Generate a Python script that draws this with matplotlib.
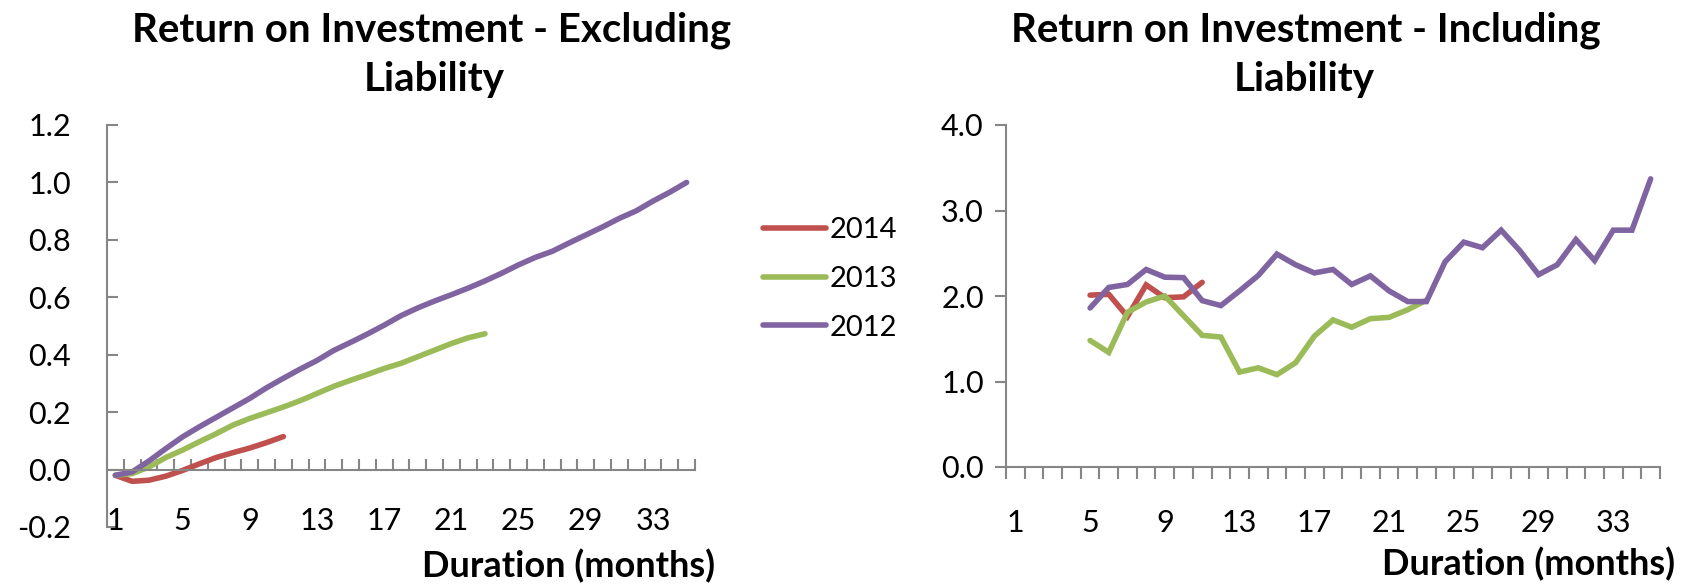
import matplotlib
matplotlib.use("Agg")
import matplotlib.pyplot as plt
import matplotlib.transforms as mtransforms
import numpy as np

plt.rcParams['font.family'] = ['Lato', 'DejaVu Sans']

# ---------------- data ----------------
months = list(range(1, 36))
tick_months = [1, 5, 9, 13, 17, 21, 25, 29, 33]
series_names = ['2014', '2013', '2012']
colors = ['#C0504D', '#9BBB59', '#8064A2']

# Return on Investment - Excluding Liability (months 1..n)
excl_2014 = [-0.020, -0.041, -0.037, -0.023, -0.003, 0.020, 0.042, 0.059, 0.075, 0.094, 0.115]
excl_2013 = [-0.020, -0.014, 0.009, 0.042, 0.068, 0.097, 0.125, 0.155, 0.178, 0.198, 0.218,
             0.240, 0.265, 0.290, 0.311, 0.331, 0.352, 0.370, 0.393, 0.416, 0.439, 0.459, 0.473]
excl_2012 = [-0.020, -0.008, 0.030, 0.073, 0.114, 0.149, 0.182, 0.215, 0.248, 0.285, 0.318,
             0.350, 0.380, 0.415, 0.443, 0.472, 0.503, 0.536, 0.563, 0.587, 0.609, 0.632,
             0.657, 0.684, 0.713, 0.739, 0.760, 0.789, 0.817, 0.845, 0.875, 0.901, 0.935,
             0.966, 1.000]

# Return on Investment - Including Liability (starting month 5)
incl_start = 5
incl_2014 = [2.01, 2.02, 1.76, 2.13, 1.98, 1.99, 2.16]
incl_2013 = [1.48, 1.34, 1.81, 1.93, 2.00, 1.77, 1.54, 1.52, 1.11, 1.16, 1.08, 1.22,
             1.53, 1.72, 1.635, 1.735, 1.75, 1.84, 1.95]
incl_2012 = [1.86, 2.10, 2.135, 2.31, 2.22, 2.215, 1.946, 1.888, 2.06, 2.24, 2.49, 2.365,
             2.27, 2.31, 2.135, 2.235, 2.06, 1.935, 1.935, 2.40, 2.63, 2.565, 2.77, 2.53,
             2.25, 2.365, 2.66, 2.415, 2.77, 2.77, 3.37]

left_yticks = [-0.2, 0.0, 0.2, 0.4, 0.6, 0.8, 1.0, 1.2]
right_yticks = [0.0, 1.0, 2.0, 3.0, 4.0]

# ---------------- figure ----------------
W, H = 1703, 585
fig = plt.figure(figsize=(W / 100, H / 100), dpi=100)
AX_COL = '#868686'
LW = 4.0
TICK_FS = 22
LEG_FS = 21


def fx(px):
    return px / W


def fy(py):
    return 1 - py / H


axL = fig.add_axes([fx(107), fy(527), fx(695) - fx(107), fy(125) - fy(527)])
axR = fig.add_axes([fx(1006), fy(467), fx(1660) - fx(1006), fy(125) - fy(467)])

excl = [excl_2014, excl_2013, excl_2012]
incl = [incl_2014, incl_2013, incl_2012]

handles = []
for name, col, vals in zip(series_names, colors, excl):
    x = months[:len(vals)]
    h, = axL.plot(x, vals, color=col, lw=LW, solid_capstyle='round',
                  solid_joinstyle='round', label=name)
    handles.append(h)

for name, col, vals in zip(series_names, colors, incl):
    x = months[incl_start - 1: incl_start - 1 + len(vals)]
    axR.plot(x, vals, color=col, lw=LW, solid_capstyle='round',
             solid_joinstyle='miter')

bounds = [m - 0.5 for m in months] + [months[-1] + 0.5]

for ax in (axL, axR):
    ax.set_xlim(bounds[0], bounds[-1])
    for s in ('top', 'right'):
        ax.spines[s].set_visible(False)
    for s in ('left', 'bottom'):
        ax.spines[s].set_color(AX_COL)
        ax.spines[s].set_linewidth(1.5)
    ax.set_xticks(bounds)
    ax.set_xticklabels([])
    ax.patch.set_alpha(0)

# Left axes
axL.set_ylim(-0.2, 1.2)
axL.spines['bottom'].set_position(('data', 0))
axL.set_yticks(left_yticks)
axL.set_yticklabels([f'{v:.1f}' for v in left_yticks])
axL.tick_params(axis='x', direction='in', length=8, width=1.5, color=AX_COL)
axL.tick_params(axis='y', direction='in', length=8, width=1.5, color=AX_COL,
                pad=26, labelsize=TICK_FS)

# Right axes
axR.set_ylim(0, 4)
axR.set_yticks(right_yticks)
axR.set_yticklabels([f'{v:.1f}' for v in right_yticks])
axR.tick_params(axis='x', direction='out', length=8.5, width=1.5, color=AX_COL)
axR.tick_params(axis='y', direction='out', length=8, width=1.5, color=AX_COL,
                pad=8, labelsize=TICK_FS)

# category labels
trL = mtransforms.blended_transform_factory(axL.transData, axL.transAxes)
trR = mtransforms.blended_transform_factory(axR.transData, axR.transAxes)
for m in tick_months:
    axL.text(m, (527 - 521) / 402, str(m), transform=trL, ha='center', va='center',
             fontsize=TICK_FS, clip_on=False)
    axR.text(m, (467 - 523) / 342, str(m), transform=trR, ha='center', va='center',
             fontsize=TICK_FS, clip_on=False)

# titles
TITLE_FS = 29
fig.text(fx(432), fy(30), 'Return on Investment - Excluding', ha='center', va='center',
         fontsize=TITLE_FS, fontweight='bold')
fig.text(fx(434), fy(80), 'Liability', ha='center', va='center',
         fontsize=TITLE_FS, fontweight='bold')
fig.text(fx(1306), fy(30), 'Return on Investment - Including', ha='center', va='center',
         fontsize=TITLE_FS, fontweight='bold')
fig.text(fx(1304), fy(80), 'Liability', ha='center', va='center',
         fontsize=TITLE_FS, fontweight='bold')

# axis titles
XL_FS = 26
fig.text(fx(569), fy(566), 'Duration (months)', ha='center', va='center',
         fontsize=XL_FS, fontweight='bold')
fig.text(fx(1529), fy(564), 'Duration (months)', ha='center', va='center',
         fontsize=XL_FS, fontweight='bold')

# legend
leg = fig.legend(handles, series_names, loc='upper left',
                 bbox_to_anchor=(fx(763), fy(217)), bbox_transform=fig.transFigure,
                 frameon=False, fontsize=LEG_FS, handlelength=2.16,
                 handletextpad=0.14, labelspacing=0.78, borderpad=0,
                 borderaxespad=0)
for lh in leg.get_lines():
    lh.set_linewidth(LW)
    lh.set_solid_capstyle('round')

fig.savefig('out.png', dpi=100)
